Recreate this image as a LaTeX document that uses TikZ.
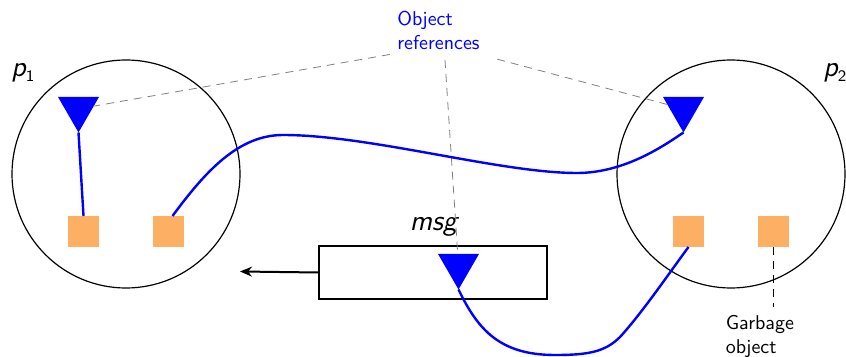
\documentclass[tikz,border=0pt]{standalone}
\usetikzlibrary{shapes.geometric,arrows.meta}
\definecolor{refblue}{RGB}{0,0,255}
\definecolor{objorange}{RGB}{253,176,100}
\begin{document}
\begin{tikzpicture}[x=0.5pt,y=-0.5pt,
  every node/.style={font=\sffamily},
  proc/.style={circle,draw,line width=0.6pt,minimum size=114pt,inner sep=0pt},
  refmark/.style={regular polygon,regular polygon sides=3,shape border rotate=180,
    fill=refblue,inner sep=0pt,outer sep=0pt,minimum size=23.67pt},
  obj/.style={rectangle,fill=objorange,minimum size=15.5pt,inner sep=0pt,outer sep=0pt},
  msgbox/.style={rectangle,draw,line width=0.6pt,minimum width=114pt,minimum height=26.5pt,inner sep=0pt},
  link/.style={draw=refblue,line width=1.2pt},
  refline/.style={draw=gray,line width=0.4pt,dash pattern=on 4pt off 3pt},
  gbline/.style={draw=black,line width=0.5pt,dash pattern=on 4pt off 3pt},
  note/.style={align=left,inner sep=0pt,anchor=north west}]
\useasboundingbox (0,0) rectangle (846,357);

% processes
\node[proc] (p1) at (126,174) {};
\node[proc] (p2) at (731,174) {};
\node[anchor=base west,inner sep=0pt] (l1) at (11,77) {{\Large\itshape p}\raisebox{-2.5pt}{\footnotesize 1}};
\node[anchor=base west,inner sep=0pt] (l2) at (823,77) {{\Large\itshape p}\raisebox{-2.5pt}{\footnotesize 2}};

% message in transit
\node[msgbox] (msg) at (433,272.5) {};
\node[anchor=base,inner sep=0pt] (msglabel) at (433.5,231) {\Large\itshape msg};
\coordinate (dest) at (240,271.5);

% references and objects
\node[refmark] (t1) at (78.5,108.8) {};
\node[refmark] (t2) at (683.5,108.8) {};
\node[refmark] (tm) at (458.5,265.8) {};
\node[obj] (s1) at (83.5,231.5) {};
\node[obj] (s2) at (168.5,231.5) {};
\node[obj] (s3) at (688.5,231.5) {};
\node[obj] (s4) at (773.5,231.5) {};

% labels
\node[note,text=refblue] (refs) at (397,10.5) {Object\\references};
\coordinate (hub) at (444,45);
\node[note] (gb) at (725.5,315) {Garbage\\object};

% label leaders
\draw[refline,shorten <=27.5pt] (hub) -- (t1);
\draw[refline,shorten <=7.5pt] (hub) -- (tm);
\draw[refline,shorten <=27.5pt] (hub) -- (t2);
\draw[gbline] (s4.south) -- ([yshift=4pt]s4.south |- gb.north);

% reference links
\draw[link] (t1.corner 1) -- (s1.north);
\draw[link] ([xshift=2pt]s2.north) .. controls (205,172) and (238,135) .. (283,135)
  .. controls (370,135) and (500,173) .. (577,173)
  .. controls (625,173) and (665,145) .. (t2.corner 1);
\draw[link] (tm.corner 1) .. controls (478,330) and (500,355) .. (555,355)
  .. controls (588,355) and (605,352) .. (620,337)
  .. controls (642,313) and (670,272) .. (s3.south);

% send arrow
\draw[line width=1pt,-{Stealth[length=6pt,width=5pt]}] (msg.west) -- (dest);
\end{tikzpicture}
\end{document}
